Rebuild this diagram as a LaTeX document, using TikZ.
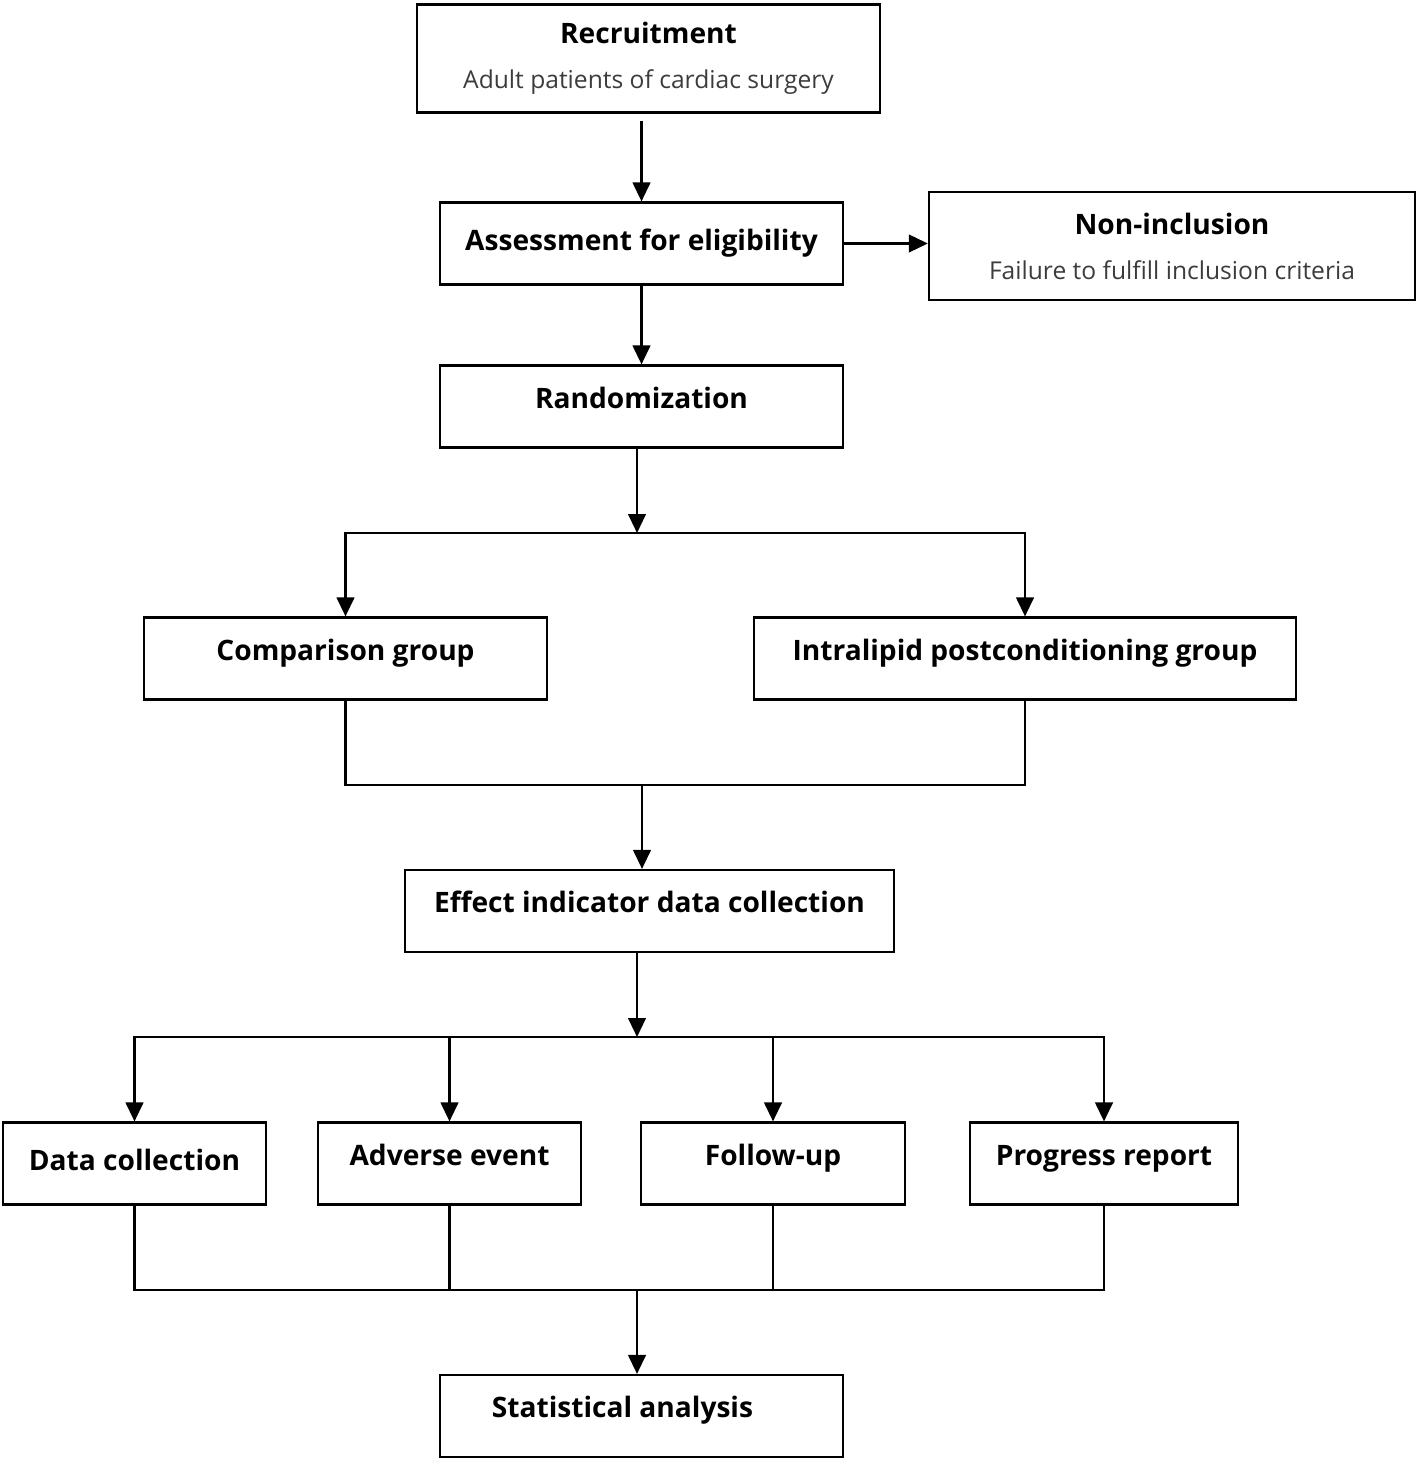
\documentclass[tikz,border=0pt]{standalone}
\usepackage{fontspec}
\setsansfont{Open Sans}
\usepackage{tikz}
\usetikzlibrary{arrows.meta, positioning, calc}
\definecolor{subgray}{RGB}{60,60,60}

\begin{document}
\begin{tikzpicture}[
  x=0.01cm, y=-0.01cm,
  line width=0.7pt,
  >={Triangle[width=5pt,length=5.4pt]},
  box/.style={draw, line width=0.6pt, minimum height=0.82cm, inner sep=0pt,
              font=\sffamily\bfseries\fontsize{8}{10}\selectfont,
              text height=6pt, text depth=5.1pt},
  boxc/.style={box, text depth=2.3pt},
  twobox/.style={draw, line width=0.6pt, minimum height=1.08cm, align=center,
                 font=\sffamily\fontsize{7}{12.8}\selectfont}
]
  \useasboundingbox (0,0) rectangle (1418,1461);

  % boxes
  \node[twobox, minimum width=4.63cm] (rec) at (648.5,58.5)
    {{\bfseries\fontsize{8}{12.8}\selectfont Recruitment}\\
     {\color{subgray}Adult patients of cardiac surgery}};
  \node[boxc, minimum width=4.03cm] (assess) at (641.5,243.5) {Assessment for eligibility};
  \node[twobox, minimum width=4.86cm] (noninc) at (1172,246)
    {{\bfseries\fontsize{8}{12.8}\selectfont Non-inclusion}\\
     {\color{subgray}Failure to fulfill inclusion criteria}};
  \node[box, minimum width=4.03cm] (rand) at (641.5,406.5) {Randomization};
  \node[box, minimum width=4.03cm] (comp) at (345.5,658.5) {Comparison group};
  \node[box, minimum width=5.42cm] (intra) at (1025,658.5) {Intralipid postconditioning group};
  \node[box, minimum width=4.89cm] (effect) at (649.5,911) {Effect indicator data collection};
  \node[boxc, minimum width=2.63cm] (data) at (134.5,1163.5) {Data collection};
  \node[box, minimum width=2.63cm] (adverse) at (449.5,1163.5) {Adverse event};
  \node[box, minimum width=2.64cm] (follow) at (773,1163.5) {Follow-up};
  \node[box, minimum width=2.68cm] (progress) at (1104,1163.5) {Progress report};
  \node[box, minimum width=4.03cm] (stat) at (641.5,1416) {Statistical analysis\hspace*{0.38cm}};

  % branch points
  \coordinate (sp1) at (637,533);
  \coordinate (mg1) at (642,785);
  \coordinate (sp2) at (637,1037);
  \coordinate (mg2) at (637,1290);

  % connectors
  \draw[->, shorten <=0.07cm] (rec.south -| assess.north) -- (assess.north);
  \draw[->] (assess) -- (assess -| noninc.west);
  \draw[->] (assess) -- (rand);
  \draw[->] (rand.south -| sp1) -- (sp1);
  \draw[->] (sp1) -| (comp);
  \draw[->] (sp1) -| (intra);
  \draw (comp) |- (mg1) -| (intra);
  \draw[->] (mg1) -- (mg1 |- effect.north);
  \draw[->] (effect.south -| sp2) -- (sp2);
  \draw[->] (sp2) -| (data);
  \draw[->] (sp2) -| (adverse);
  \draw[->] (sp2) -| (follow);
  \draw[->] (sp2) -| (progress);
  \draw (data) |- (mg2) -| (progress);
  \draw (adverse) -- (adverse |- mg2);
  \draw (follow) -- (follow |- mg2);
  \draw[->] (mg2) -- (mg2 |- stat.north);
\end{tikzpicture}
\end{document}
